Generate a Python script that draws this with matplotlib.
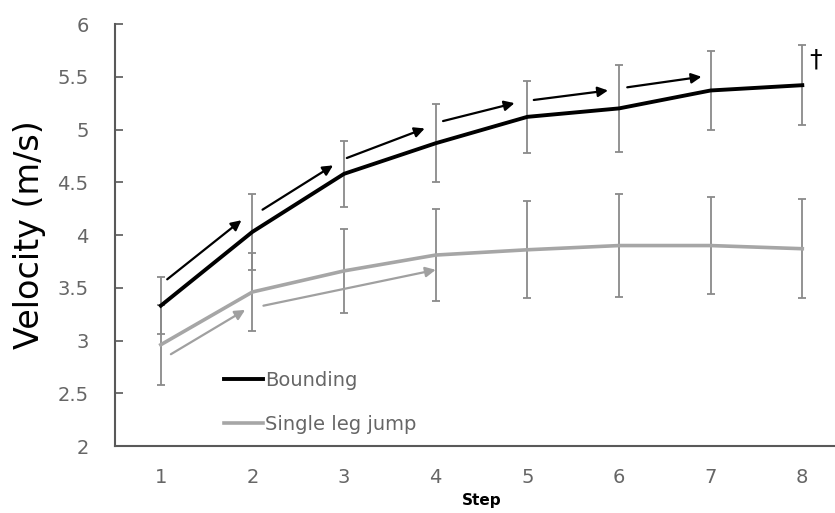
import numpy as np
import matplotlib.pyplot as plt

# Data
steps = [1, 2, 3, 4, 5, 6, 7, 8]
bounding = [3.33, 4.03, 4.58, 4.87, 5.12, 5.20, 5.37, 5.42]
bounding_sd = [0.27, 0.36, 0.31, 0.37, 0.34, 0.41, 0.37, 0.38]
single_leg = [2.96, 3.46, 3.66, 3.81, 3.86, 3.90, 3.90, 3.87]
single_leg_sd = [0.38, 0.37, 0.40, 0.44, 0.46, 0.49, 0.46, 0.47]

# Arrow annotations (start, end) in data coords
black_arrows = [((1.07, 3.58), (1.88, 4.14)),
                ((2.11, 4.24), (2.88, 4.66)),
                ((3.03, 4.73), (3.88, 5.01)),
                ((4.08, 5.08), (4.86, 5.25)),
                ((5.07, 5.28), (5.88, 5.37)),
                ((6.09, 5.40), (6.90, 5.50))]
gray_arrows = [((1.11, 2.87), (1.92, 3.29)),
               ((2.12, 3.33), (4.00, 3.67))]

fig = plt.figure(figsize=(8.35, 5.13), dpi=100)
ax = fig.add_axes([0.1377, 0.1306, 0.878, 0.8226])

err_color = '#8a8a8a'
ax.errorbar(steps, bounding, yerr=bounding_sd, fmt='none', ecolor=err_color,
            elinewidth=1.3, capsize=3, capthick=1.3, zorder=2)
ax.errorbar(steps, single_leg, yerr=single_leg_sd, fmt='none', ecolor=err_color,
            elinewidth=1.3, capsize=3, capthick=1.3, zorder=2)

ax.plot(steps, single_leg, color='#a6a6a6', lw=2.6, label='Single leg jump', zorder=3)
ax.plot(steps, bounding, color='black', lw=2.8, label='Bounding', zorder=4)

for (s, e) in black_arrows:
    ax.annotate('', xy=e, xytext=s,
                arrowprops=dict(arrowstyle='-|>', color='black', lw=1.6,
                                mutation_scale=15, shrinkA=0, shrinkB=0))
for (s, e) in gray_arrows:
    ax.annotate('', xy=e, xytext=s,
                arrowprops=dict(arrowstyle='-|>', color='#a0a0a0', lw=1.6,
                                mutation_scale=15, shrinkA=0, shrinkB=0))

ax.text(8.15, 5.66, '†', fontsize=18, ha='center', va='center', color='black')

ax.set_xlim(0.5, 8.5)
ax.set_ylim(2, 6)
ax.set_xticks(steps)
ax.set_yticks(np.arange(2, 6.01, 0.5))
ax.set_yticklabels(['2', '2.5', '3', '3.5', '4', '4.5', '5', '5.5', '6'])

for side in ['top', 'right']:
    ax.spines[side].set_visible(False)
for side in ['left', 'bottom']:
    ax.spines[side].set_color('#595959')
    ax.spines[side].set_linewidth(1.5)

ax.tick_params(axis='y', direction='in', length=6, width=1.2, color='#595959',
               labelsize=14, labelcolor='#666666', pad=19)
ax.tick_params(axis='x', length=0, labelsize=14, labelcolor='#666666', pad=16)

ax.set_ylabel('Velocity (m/s)', fontsize=24, labelpad=8)
ax.set_xlabel('Step', fontsize=11, fontweight='bold', labelpad=4)

handles, labels = ax.get_legend_handles_labels()
leg = ax.legend(handles[::-1], labels[::-1], frameon=False, loc='upper left',
                bbox_to_anchor=(0.125, 0.22), fontsize=14, handlelength=2.0,
                handletextpad=0.1, labelspacing=1.3)
for t in leg.get_texts():
    t.set_color('#666666')

plt.savefig('out.png', dpi=100)
